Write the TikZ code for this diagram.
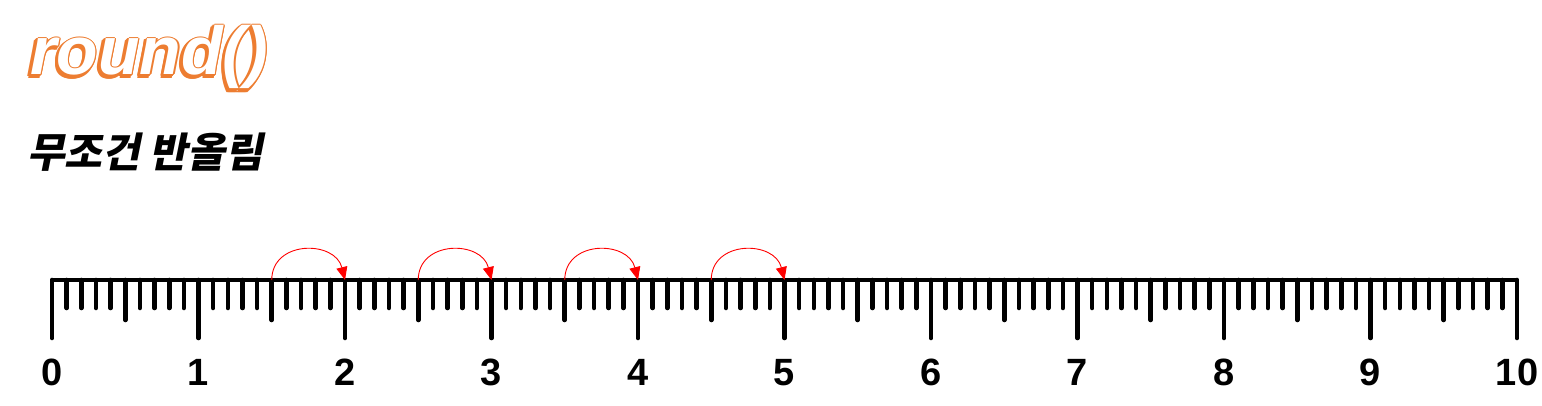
\documentclass[tikz,border=0pt]{standalone}
\usepackage{fontspec}
\setmainfont{Liberation Sans}
\newfontfamily\kofont[FakeSlant=0.2]{Noto Sans CJK KR}
\usetikzlibrary{arrows.meta}
\definecolor{titleorange}{HTML}{ED7D31}
\definecolor{jumpred}{HTML}{FF0000}

\begin{document}
\begin{tikzpicture}[x=1pt,y=-1pt,
  tick/.style={line width=4.6pt,line cap=round},
  num/.style={font=\fontsize{38}{38}\selectfont\bfseries,anchor=base},
  ttl/.style={anchor=base west,inner sep=0pt,
              font=\fontsize{68}{68}\selectfont\bfseries\itshape},
  jump/.style={draw=jumpred,line width=0.9pt,
               -{Triangle[length=13pt,width=11pt]}}]
  \useasboundingbox (0,0) rectangle (1542,406);
  % title, outlined with a shadow
  \foreach \a in {0,45,...,315}
    \node[ttl,titleorange,shift={(\a:1.5)}] at (28,77) {round()};
  \foreach \a in {0,45,...,315}
    \node[ttl,titleorange,shift={(\a:1.3)}] at (30,75) {round()};
  \node[ttl,white] (title) at (30,75) {round()};
  \node[anchor=base west,inner sep=0pt,
        font=\kofont\fontsize{41}{41}\selectfont\bfseries] (sub) at (27,168)
        {무조건 반올림};
  % ruler
  \foreach \i in {0,...,100} {
    \pgfmathsetmacro\len{ifthenelse(mod(\i,10)==0,58,ifthenelse(mod(\i,5)==0,40,28))}
    \coordinate (m\i) at (52+\i*14.65,280);
    \draw[tick] (m\i) -- ++(0,\len);
  }
  \draw[line width=4.6pt] (m0) -- (m100);
  \foreach \k in {0,...,10}
    \node[num] (n\k) at (52+\k*146.5,385) {\k};
  % jumps
  \foreach \s/\e in {15/20,25/30,35/40,45/50}
    \draw[jump] (m\s) .. controls +(0,-40) and +(-10,-40) .. (m\e);
\end{tikzpicture}
\end{document}
